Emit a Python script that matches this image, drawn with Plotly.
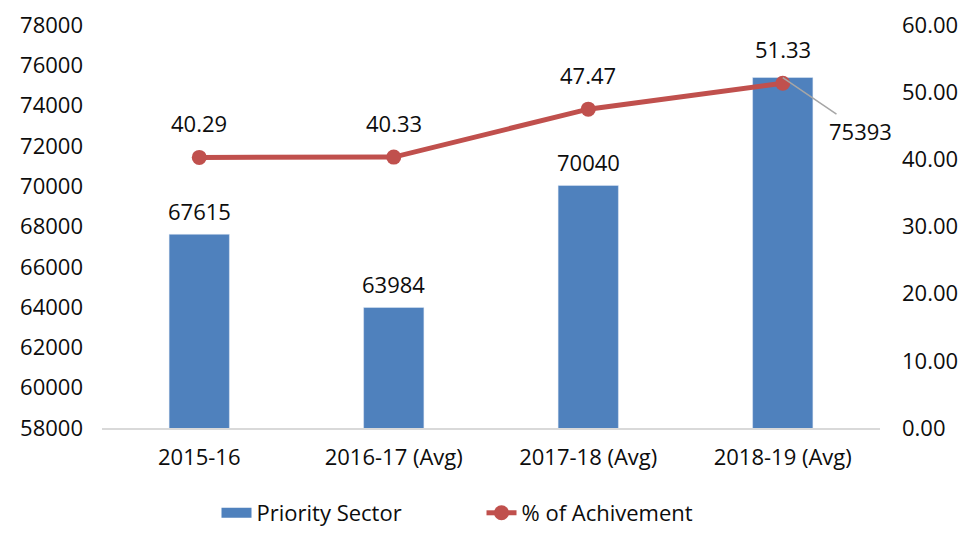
import plotly.graph_objects as go

categories = ["2015-16", "2016-17 (Avg)", "2017-18 (Avg)", "2018-19 (Avg)"]
priority_sector = [67615, 63984, 70040, 75393]
achievement_pct = [40.29, 40.33, 47.47, 51.33]
left_ticks = list(range(58000, 78001, 2000))
right_ticks = [0, 10, 20, 30, 40, 50, 60]

BLUE = "#4F81BD"
RED = "#C0504D"
FONT = "Open Sans"
TXT = "#0D0D0D"
FS = 22

fig = go.Figure()
fig.add_trace(go.Bar(
    x=categories, y=priority_sector, name="Priority Sector",
    marker=dict(color=BLUE), width=0.31, showlegend=False,
))
# legend-only swatch for the bars (wide rectangle like the original)
fig.add_trace(go.Scatter(
    x=[None], y=[None], name="Priority Sector", mode="lines",
    line=dict(color=BLUE, width=16), showlegend=True,
))
fig.add_trace(go.Scatter(
    x=categories, y=achievement_pct, name="% of Achivement", yaxis="y2",
    mode="lines+markers",
    line=dict(color=RED, width=5),
    marker=dict(color=RED, size=15),
    cliponaxis=False,
))

# bar labels (first three above bars)
for i in range(3):
    fig.add_annotation(
        x=categories[i], y=priority_sector[i], xref="x", yref="y",
        text=str(priority_sector[i]), showarrow=False,
        yanchor="bottom", yshift=6,
        font=dict(size=FS, color=TXT, family=FONT),
    )
# line labels
for c, v in zip(categories, achievement_pct):
    fig.add_annotation(
        x=c, y=v, xref="x", yref="y2",
        text=f"{v:.2f}", showarrow=False,
        yanchor="bottom", yshift=17,
        font=dict(size=FS, color=TXT, family=FONT),
    )
# last bar label with leader line
fig.add_annotation(
    x=categories[3], y=priority_sector[3], xref="x", yref="y",
    text=str(priority_sector[3]), showarrow=True, arrowhead=0,
    arrowcolor="#A6A6A6", arrowwidth=1.5, ax=78, ay=53,
    font=dict(size=FS, color=TXT, family=FONT),
)

fig.update_layout(
    width=963, height=545, autosize=False,
    margin=dict(l=102, r=83, t=25, b=117, autoexpand=False),
    paper_bgcolor="white", plot_bgcolor="white",
    font=dict(family=FONT, size=FS, color=TXT),
    bargap=0.69,
    showlegend=True,
    legend=dict(orientation="h", x=0.5, xanchor="center", xref="container",
                y=1 - 513 / 545, yanchor="middle", yref="container",
                font=dict(size=FS), traceorder="normal", entrywidth=220),
    xaxis=dict(range=[-0.5, 3.5], autorange=False, showgrid=False, showline=True,
               linecolor="#D9D9D9", linewidth=1.5,
               ticks="", tickfont=dict(size=FS), ticklabelstandoff=9),
    yaxis=dict(range=[58000, 78000], tickvals=left_ticks, tickformat="d",
               showgrid=False, zeroline=False, showline=False, ticks="",
               tickfont=dict(size=FS), ticklabelstandoff=18),
    yaxis2=dict(range=[0, 60], tickvals=right_ticks, tickformat=".2f",
                overlaying="y", side="right", showgrid=False, zeroline=False,
                showline=False, ticks="", tickfont=dict(size=FS),
                ticklabelstandoff=21),
)

post_js = (
    "document.body.style.margin='0';"
    "document.body.style.overflow='hidden';"
    "Plotly.relayout(document.getElementById('{plot_id}'), {width: 963, height: 545});"
)

fig.write_html("out.html",
               config={"responsive": False, "displayModeBar": False},
               post_script=post_js)
